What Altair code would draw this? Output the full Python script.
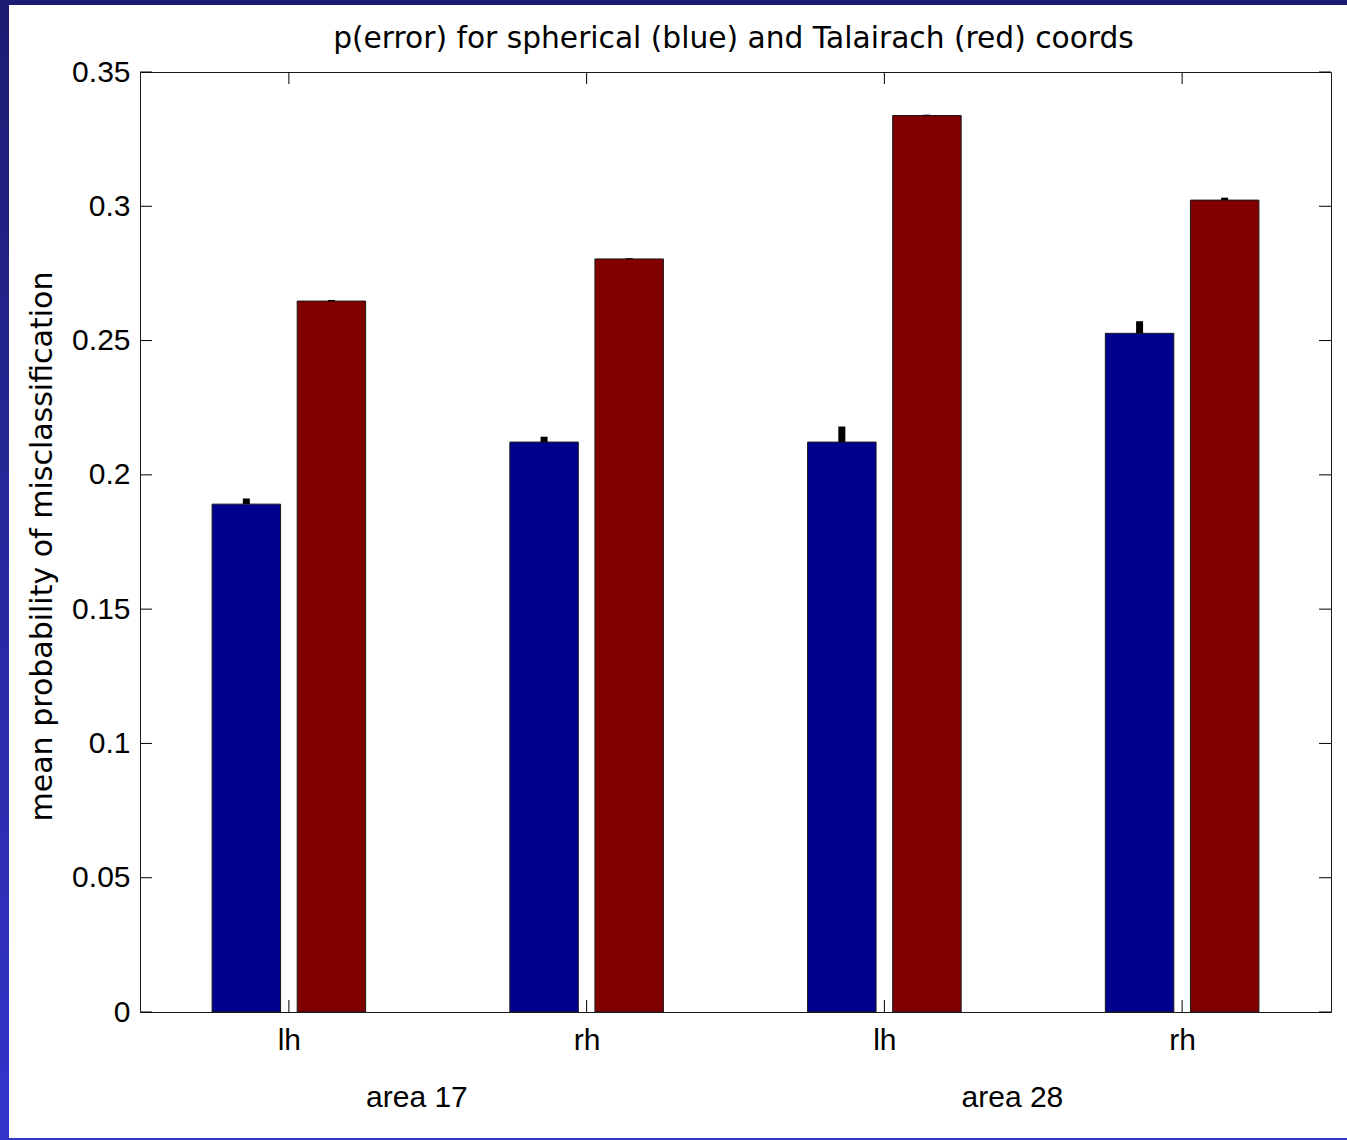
import json
import altair as alt
import pandas as pd

# Group positions and tick labels along x
groups = [1, 2, 3, 4]
hemis = ["lh", "rh", "lh", "rh"]
areas = ["area 17", "area 28"]
area_pos = [1.43, 3.43]

# Mean probability of misclassification and upper error
spherical = [0.1891, 0.2122, 0.2122, 0.2527]
spherical_err = [0.0021, 0.0020, 0.0058, 0.0045]
talairach = [0.2647, 0.2804, 0.3338, 0.3023]
talairach_err = [0.0004, 0.0003, 0.0003, 0.0009]

y_ticks = [0, 0.05, 0.1, 0.15, 0.2, 0.25, 0.3, 0.35]
title_text = "p(error) for spherical (blue) and Talairach (red) coords"

W, H = 1191, 940
BLUE, RED = "#00008F", "#800000"
OFFSET, HALF = 0.1429, 0.115

rows = []
for g, v, e in zip(groups, spherical, spherical_err):
    rows.append(dict(series="spherical", x=g - OFFSET, lo=g - OFFSET - HALF, hi=g - OFFSET + HALF, val=v, top=v + e))
for g, v, e in zip(groups, talairach, talairach_err):
    rows.append(dict(series="Talairach", x=g + OFFSET, lo=g + OFFSET - HALF, hi=g + OFFSET + HALF, val=v, top=v + e))
bars_df = pd.DataFrame(rows)

xscale = alt.Scale(domain=[0.5, 4.5], nice=False, zero=False)
yscale = alt.Scale(domain=[0, 0.35], nice=False)

label_expr = json.dumps([""] + hemis) + "[datum.value]"

x_axis = alt.Axis(values=groups, labelExpr=label_expr, domain=False, ticks=False, tickSize=0,
                  grid=False, labelFont="Liberation Sans", labelFontSize=30, labelColor="black",
                  labelPadding=28, labelBaseline="middle", title=None)
y_axis = alt.Axis(values=y_ticks, format=".2~f", domain=False, ticks=False, tickSize=0, grid=False,
                  labelFont="Liberation Sans", labelFontSize=30, labelColor="black", labelPadding=10,
                  title="mean probability of misclassification", titleFont="DejaVu Sans",
                  titleFontSize=30, titleFontWeight="normal", titleColor="black",
                  titleAngle=270, titleX=-98, titleY=H / 2 + 4, titleAlign="center",
                  titleBaseline="middle")

bars = alt.Chart(bars_df).mark_bar(stroke="#1a1a1a", strokeWidth=1).encode(
    x=alt.X("lo:Q", scale=xscale, axis=x_axis),
    x2="hi:Q",
    y=alt.Y("val:Q", scale=yscale, axis=y_axis),
    y2=alt.datum(0),
    color=alt.Color("series:N", scale=alt.Scale(domain=["spherical", "Talairach"], range=[BLUE, RED]), legend=None),
)

errs = alt.Chart(bars_df).mark_rule(color="black", strokeWidth=7).encode(
    x=alt.X("x:Q", scale=xscale),
    y=alt.Y("val:Q", scale=yscale),
    y2="top:Q",
)

# Inward tick marks on all four sides of the box
yt_df = pd.DataFrame({"val": y_ticks})
xt_df = pd.DataFrame({"x": groups})
TL = 12
ytick_l = alt.Chart(yt_df).mark_rule(color="black", strokeWidth=1).encode(
    y=alt.Y("val:Q", scale=yscale), x=alt.value(0), x2=alt.value(TL))
ytick_r = alt.Chart(yt_df).mark_rule(color="black", strokeWidth=1).encode(
    y=alt.Y("val:Q", scale=yscale), x=alt.value(W - TL), x2=alt.value(W))
xtick_b = alt.Chart(xt_df).mark_rule(color="black", strokeWidth=1).encode(
    x=alt.X("x:Q", scale=xscale), y=alt.value(H - TL), y2=alt.value(H))
xtick_t = alt.Chart(xt_df).mark_rule(color="black", strokeWidth=1).encode(
    x=alt.X("x:Q", scale=xscale), y=alt.value(0), y2=alt.value(TL))

area_df = pd.DataFrame({"x": area_pos, "label": areas})
area_text = alt.Chart(area_df).mark_text(font="Liberation Sans", fontSize=30, color="black",
                                         baseline="middle", align="center").encode(
    x=alt.X("x:Q", scale=xscale), y=alt.value(H + 86), text="label:N")

title_df = pd.DataFrame({"label": [title_text]})
title_mark = alt.Chart(title_df).mark_text(font="DejaVu Sans", fontSize=29.7, color="black",
                                           baseline="middle", align="center").encode(
    x=alt.value(W / 2 - 2), y=alt.value(-33), text="label:N")

# Slide frame around the figure
one = pd.DataFrame({"k": [0]})
left_strip = alt.Chart(one).mark_rect(
    color=alt.LinearGradient(gradient="linear", x1=0, x2=0, y1=0, y2=1,
                             stops=[alt.GradientStop(color="#1c1c72", offset=0),
                                    alt.GradientStop(color="#3434cc", offset=1)])
).encode(x=alt.value(-140), x2=alt.value(-131), y=alt.value(-72), y2=alt.value(H + 128))
top_strip = alt.Chart(one).mark_rect(color="#1c1c74").encode(
    x=alt.value(-140), x2=alt.value(W + 16), y=alt.value(-72), y2=alt.value(-67))
bottom_strip = alt.Chart(one).mark_rect(color="#3434c8").encode(
    x=alt.value(-140), x2=alt.value(W + 16), y=alt.value(H + 126), y2=alt.value(H + 128))

chart = alt.layer(
    bars, errs, ytick_l, ytick_r, xtick_b, xtick_t, area_text, title_mark,
    left_strip, top_strip, bottom_strip
).properties(
    width=W, height=H,
    background="white",
    autosize=alt.AutoSizeParams(type="none"),
    padding={"left": 140, "top": 72, "right": 16, "bottom": 128},
).configure_view(stroke="#1a1a1a", strokeWidth=1)

chart.save("out.html", embed_options={"renderer": "svg", "actions": False})
